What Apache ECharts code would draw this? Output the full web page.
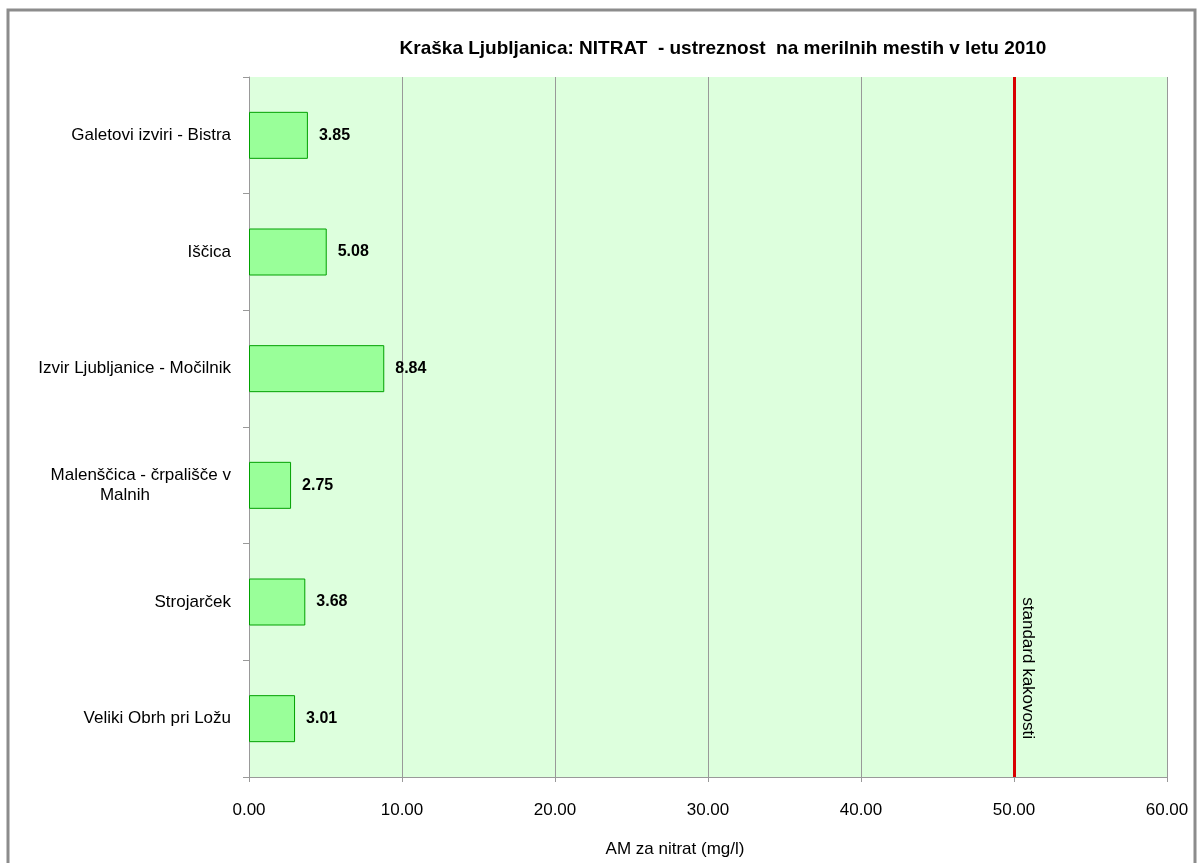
<!DOCTYPE html>
<html>
<head>
<meta charset="utf-8">
<title>NITRAT 2010</title>
<script src="https://cdn.jsdelivr.net/npm/echarts@6/dist/echarts.min.js"></script>
<style>
    html, body { margin: 0; padding: 0; background: #fff; }
    #main { width: 1203px; height: 863px; }
</style>
</head>
<body>
<div id="main"></div>
<script>
// merilna mesta
var mesta = [
    'Galetovi izviri - Bistra',
    'Iščica',
    'Izvir Ljubljanice - Močilnik',
    'Malenščica - črpališče v Malnih',
    'Strojarček',
    'Veliki Obrh pri Ložu'
];
// AM za nitrat (mg/l)
var vrednosti = [3.85, 5.08, 8.84, 2.75, 3.68, 3.01];
// standard kakovosti
var standard = 50;
var osX = { min: 0, max: 60, interval: 10 };

var fontFam = '"Liberation Sans", Arial, sans-serif';

var myChart = echarts.init(document.getElementById('main'));
var option = {
    backgroundColor: '#fff',
    animation: false,
    title: {
        text: 'Kraška Ljubljanica: NITRAT  - ustreznost  na merilnih mestih v letu 2010',
        left: 718,
        top: 34,
        textAlign: 'center',
        textStyle: { fontFamily: fontFam, fontSize: 19, fontWeight: 'bold', color: '#000' }
    },
    graphic: [{
        type: 'rect',
        shape: { x: 8, y: 10, width: 1187, height: 900 },
        style: { fill: null, stroke: '#8c8c8c', lineWidth: 3 },
        silent: true
    }],
    grid: {
        left: 249,
        right: 36,
        top: 77,
        bottom: 80,
        show: true,
        backgroundColor: '#DDFFDD',
        borderWidth: 0
    },
    xAxis: {
        type: 'value',
        min: osX.min,
        max: osX.max,
        interval: osX.interval,
        name: 'AM za nitrat (mg/l)',
        nameLocation: 'middle',
        nameGap: 64,
        nameTextStyle: { fontFamily: fontFam, fontSize: 17, color: '#000', padding: [0, 66, 0, 0] },
        axisLine: { show: true, lineStyle: { color: '#999', width: 1 } },
        axisTick: { show: true, length: 5, lineStyle: { color: '#999' } },
        axisLabel: {
            margin: 25,
            fontFamily: fontFam,
            fontSize: 17,
            color: '#000',
            formatter: function (v) { return v.toFixed(2); }
        },
        splitLine: { show: true, lineStyle: { color: '#999', width: 1 } }
    },
    yAxis: {
        type: 'category',
        data: mesta,
        inverse: true,
        axisLine: { show: true, lineStyle: { color: '#999', width: 1 } },
        axisTick: { show: true, length: 6, lineStyle: { color: '#999' } },
        axisLabel: {
            margin: 18,
            width: 212,
            fontFamily: fontFam,
            fontSize: 17,
            color: '#000',
            lineHeight: 20,
            formatter: function (v) {
                // dolge oznake prelomi pred zadnjo besedo
                if (v.length > 28) {
                    var i = v.lastIndexOf(' ');
                    return v.substring(0, i) + '\n{c|' + v.substring(i + 1) + '}';
                }
                return v;
            },
            rich: {
                c: { align: 'center', fontFamily: fontFam, fontSize: 17, color: '#000', lineHeight: 20 }
            }
        },
        splitLine: { show: false }
    },
    series: [{
        name: 'AM',
        type: 'bar',
        data: vrednosti,
        barWidth: 47,
        itemStyle: { color: '#99FF99', borderColor: '#00A000', borderWidth: 1 },
        label: {
            show: true,
            position: 'right',
            distance: 11,
            fontFamily: fontFam,
            fontSize: 16,
            fontWeight: 'bold',
            color: '#000',
            formatter: function (p) { return p.value.toFixed(2); }
        },
        markLine: {
            silent: true,
            symbol: ['none', 'none'],
            lineStyle: { color: '#D80000', width: 3, type: 'solid' },
            label: {
                show: true,
                position: 'insideEndTop',
                distance: [38, 5],
                formatter: 'standard kakovosti',
                fontFamily: fontFam,
                fontSize: 17,
                color: '#000'
            },
            emphasis: { disabled: true },
            data: [{ xAxis: standard }]
        }
    }]
};
myChart.setOption(option);
</script>
</body>
</html>
